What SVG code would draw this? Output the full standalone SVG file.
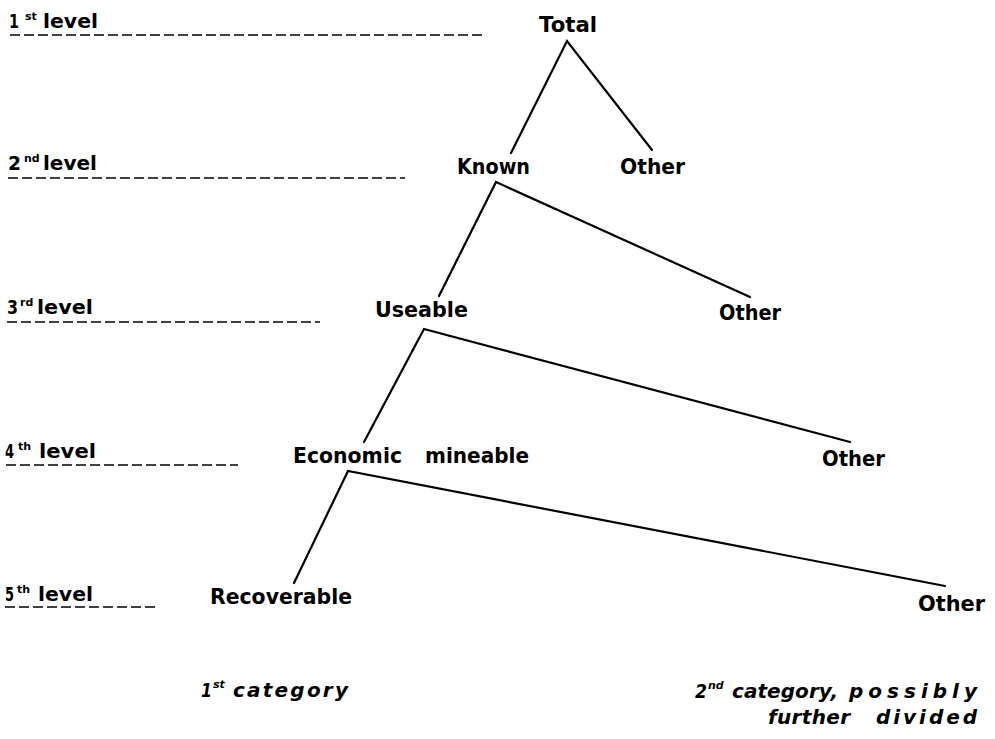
<svg xmlns="http://www.w3.org/2000/svg" width="995" height="739" viewBox="0 0 995 739">
  <style>
    .node { font-family: "DejaVu Sans", "Liberation Sans", sans-serif; font-weight: bold; font-size: 21px; fill: #000; }
    .lvl { font-family: "DejaVu Sans", "Liberation Sans", sans-serif; font-weight: bold; font-size: 20px; fill: #000; }
    .sup { font-family: "DejaVu Sans", "Liberation Sans", sans-serif; font-weight: bold; font-size: 11px; fill: #000; }
    .cat { font-family: "DejaVu Sans", "Liberation Sans", sans-serif; font-weight: bold; font-style: italic; font-size: 20px; fill: #000; }
    .csup { font-family: "DejaVu Sans", "Liberation Sans", sans-serif; font-weight: bold; font-style: italic; font-size: 11px; fill: #000; }
    .rule { stroke: #000; stroke-width: 1.6; stroke-dasharray: 10 4; fill: none; }
    .edge { stroke: #000; stroke-width: 2.2; fill: none; stroke-linecap: round; stroke-linejoin: miter; }
  </style>
  <rect width="995" height="739" fill="#fff"/>

  <!-- level labels with dashed guide lines -->
  <g id="level-1">
    <text class="lvl" x="9" y="28" textLength="10" lengthAdjust="spacingAndGlyphs">1</text>
    <text class="sup" x="25" y="20">st</text>
    <text class="lvl" x="43" y="28" textLength="55" lengthAdjust="spacingAndGlyphs">level</text>
    <line class="rule" x1="10" y1="35" x2="486" y2="35"/>
  </g>
  <g id="level-2">
    <text class="lvl" x="8" y="170" textLength="13" lengthAdjust="spacingAndGlyphs">2</text>
    <text class="sup" x="24" y="162">nd</text>
    <text class="lvl" x="43" y="170" textLength="54" lengthAdjust="spacingAndGlyphs">level</text>
    <line class="rule" x1="8" y1="178" x2="405" y2="178"/>
  </g>
  <g id="level-3">
    <text class="lvl" x="7" y="314" textLength="11" lengthAdjust="spacingAndGlyphs">3</text>
    <text class="sup" x="20" y="306">rd</text>
    <text class="lvl" x="37" y="314" textLength="56" lengthAdjust="spacingAndGlyphs">level</text>
    <line class="rule" x1="7" y1="322" x2="320" y2="322"/>
  </g>
  <g id="level-4">
    <text class="lvl" x="5" y="458" textLength="9" lengthAdjust="spacingAndGlyphs">4</text>
    <text class="sup" x="18" y="450">th</text>
    <text class="lvl" x="39" y="458" textLength="57" lengthAdjust="spacingAndGlyphs">level</text>
    <line class="rule" x1="6" y1="465" x2="238" y2="465"/>
  </g>
  <g id="level-5">
    <text class="lvl" x="5" y="601" textLength="9" lengthAdjust="spacingAndGlyphs">5</text>
    <text class="sup" x="17" y="593">th</text>
    <text class="lvl" x="38" y="601" textLength="55" lengthAdjust="spacingAndGlyphs">level</text>
    <line class="rule" x1="5" y1="607" x2="155" y2="607"/>
  </g>

  <!-- tree connectors -->
  <g id="connectors">
    <polyline class="edge" points="511,153 567,41 652,150"/>
    <polyline class="edge" points="439,296 496,182 750,297"/>
    <polyline class="edge" points="364,442 424,329 850,442"/>
    <polyline class="edge" points="294,583 348,471 945,586"/>
  </g>

  <!-- nodes -->
  <g id="total"><text class="node" x="539" y="32" textLength="58" lengthAdjust="spacingAndGlyphs">Total</text></g>
  <g id="known"><text class="node" x="457" y="174" textLength="73" lengthAdjust="spacingAndGlyphs">Known</text></g>
  <g id="other-2"><text class="node" x="620" y="174" textLength="65" lengthAdjust="spacingAndGlyphs">Other</text></g>
  <g id="useable"><text class="node" x="375" y="317" textLength="93" lengthAdjust="spacingAndGlyphs">Useable</text></g>
  <g id="other-3"><text class="node" x="719" y="320" textLength="62" lengthAdjust="spacingAndGlyphs">Other</text></g>
  <g id="economic-mineable">
    <text class="node" x="293" y="463" textLength="109" lengthAdjust="spacingAndGlyphs">Economic</text>
    <text class="node" x="425" y="463" textLength="104" lengthAdjust="spacingAndGlyphs">mineable</text>
  </g>
  <g id="other-4"><text class="node" x="822" y="466" textLength="63" lengthAdjust="spacingAndGlyphs">Other</text></g>
  <g id="recoverable"><text class="node" x="210" y="604" textLength="142" lengthAdjust="spacingAndGlyphs">Recoverable</text></g>
  <g id="other-5"><text class="node" x="918" y="611" textLength="67" lengthAdjust="spacingAndGlyphs">Other</text></g>

  <!-- category captions -->
  <g id="category-1">
    <text class="cat" x="201" y="697" textLength="11" lengthAdjust="spacingAndGlyphs">1</text>
    <text class="csup" x="213" y="688">st</text>
    <text class="cat" x="233" y="697" textLength="115" lengthAdjust="spacing">category</text>
  </g>
  <g id="category-2">
    <text class="cat" x="695" y="698" textLength="12" lengthAdjust="spacingAndGlyphs">2</text>
    <text class="csup" x="708" y="689">nd</text>
    <text class="cat" x="732" y="698" textLength="106" lengthAdjust="spacing">category,</text>
    <text class="cat" x="849" y="698" textLength="128" lengthAdjust="spacing">possibly</text>
    <text class="cat" x="768" y="724" textLength="82" lengthAdjust="spacing">further</text>
    <text class="cat" x="876" y="724" textLength="101" lengthAdjust="spacing">divided</text>
  </g>
</svg>
